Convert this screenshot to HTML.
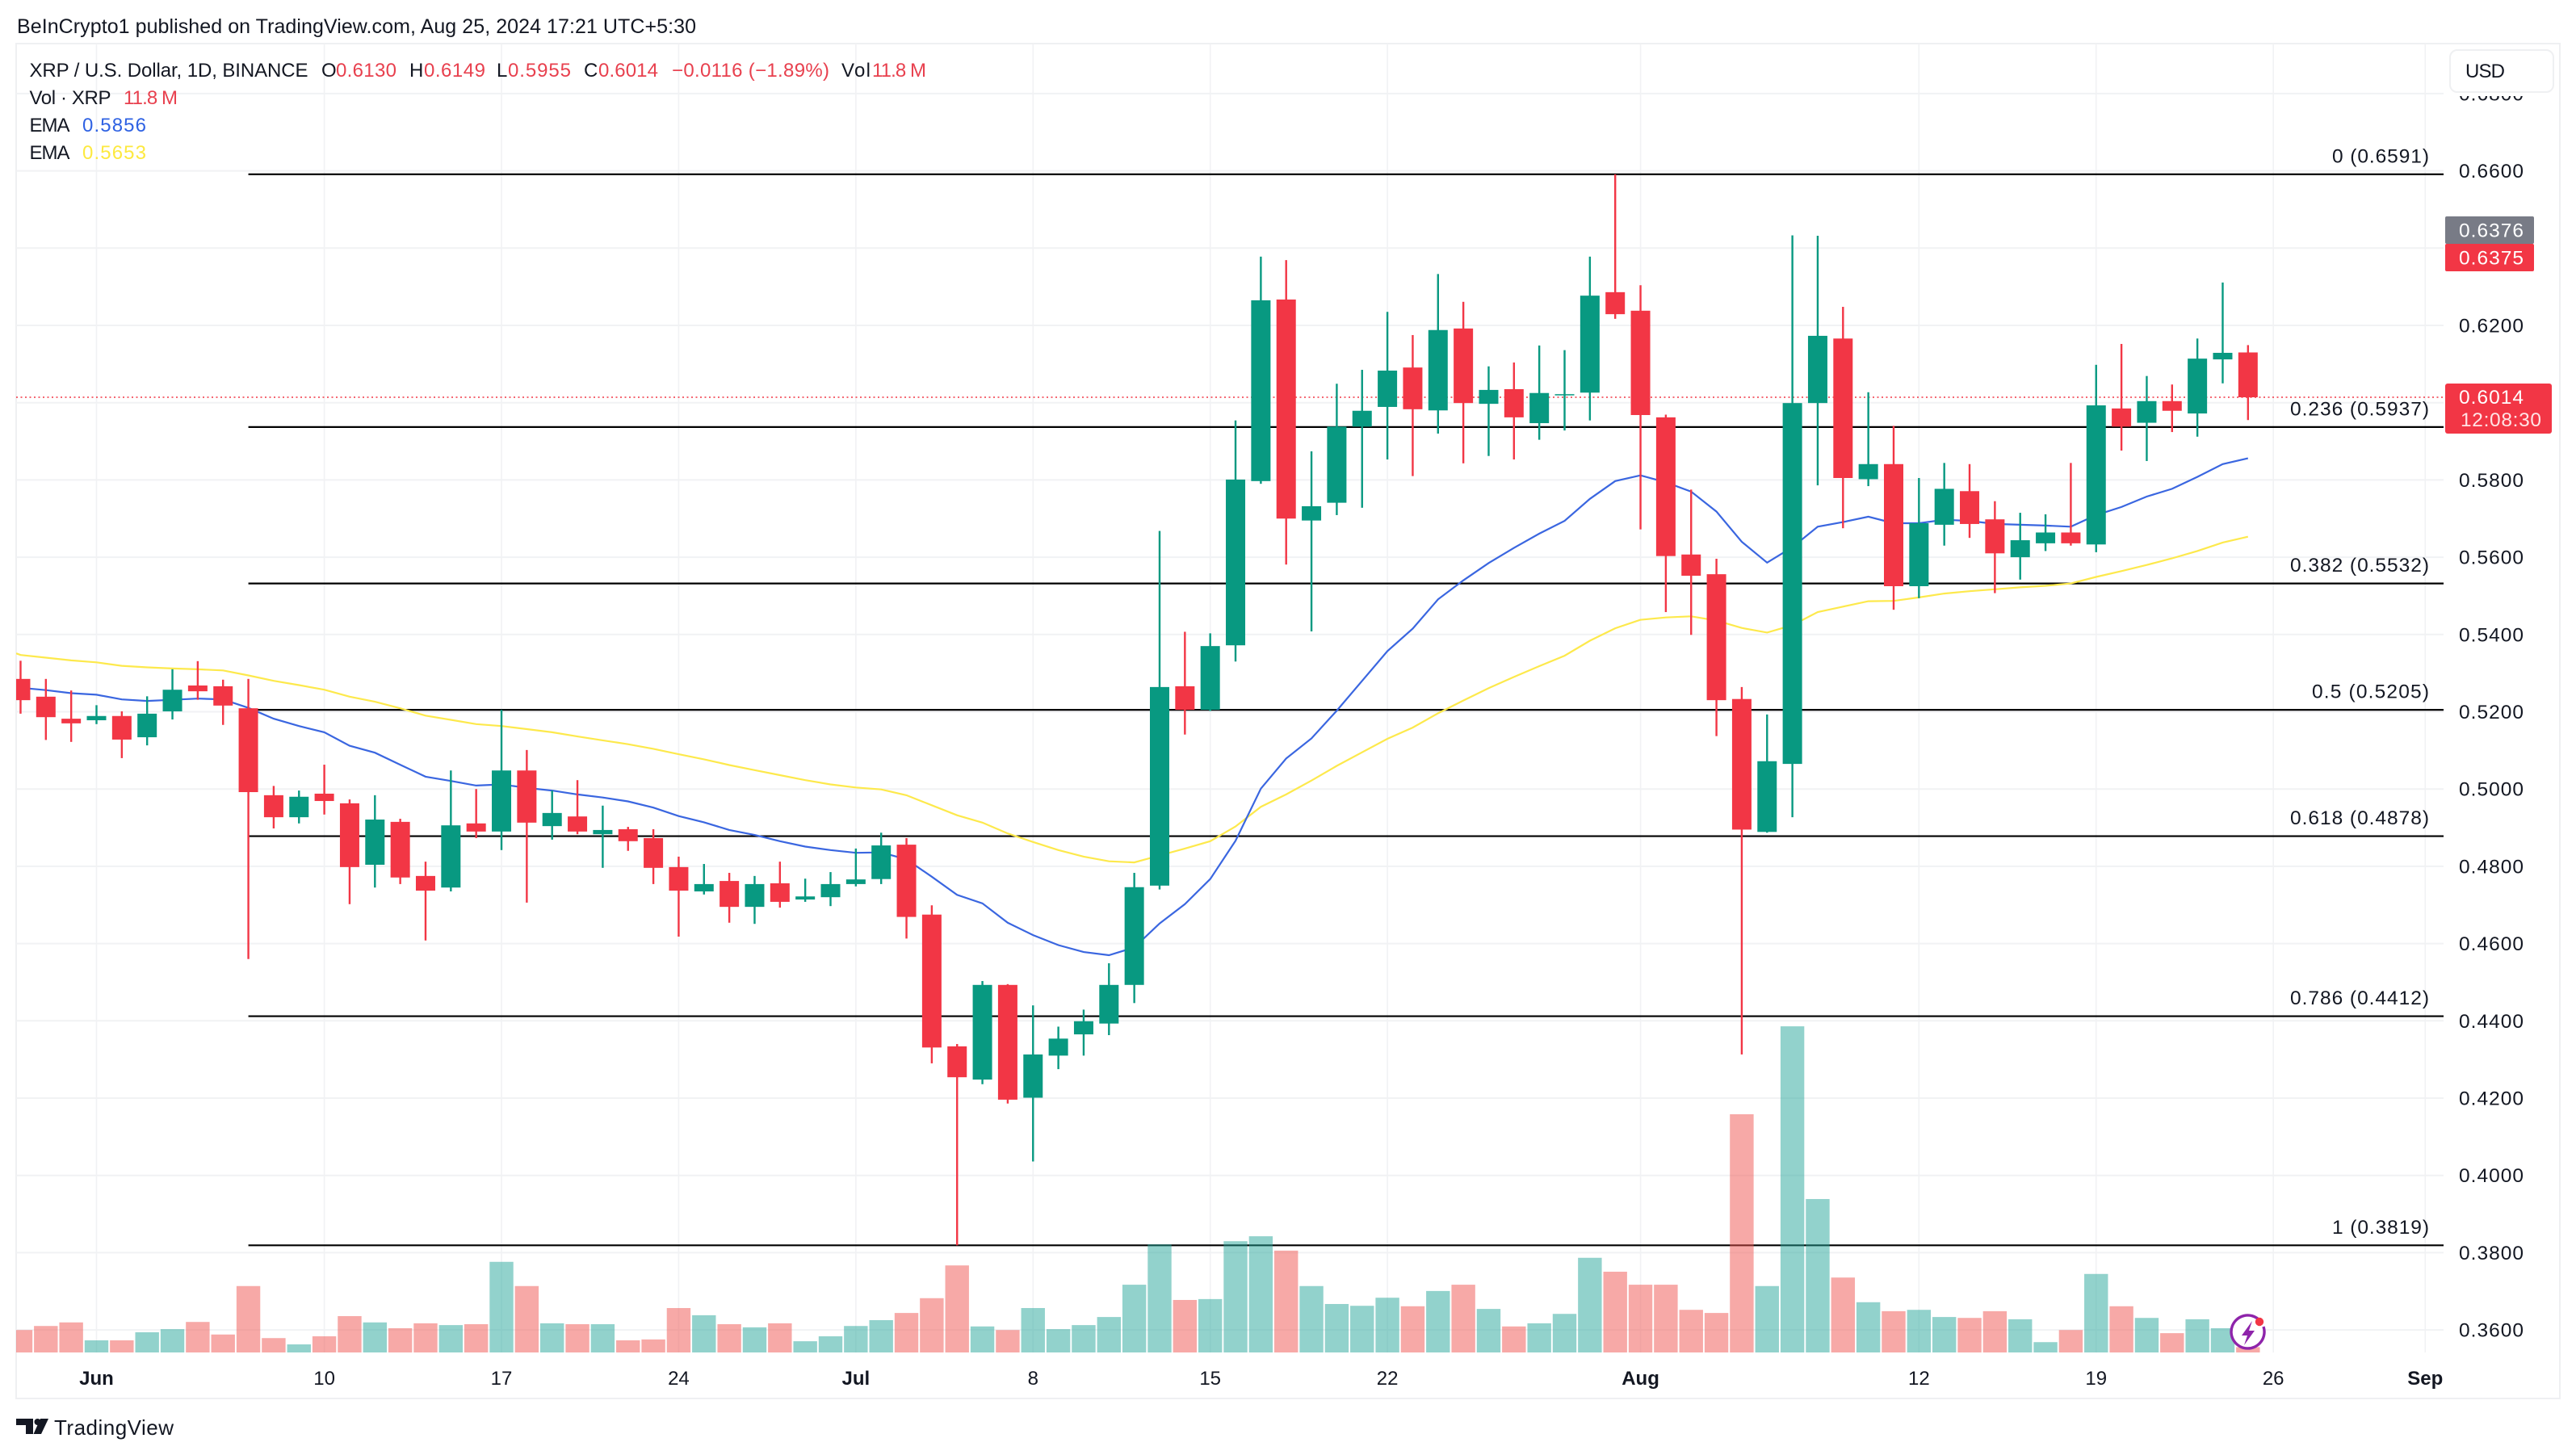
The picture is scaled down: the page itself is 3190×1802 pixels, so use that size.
<!DOCTYPE html>
<html lang="en">
<head>
<meta charset="utf-8">
<title>XRP / U.S. Dollar chart</title>
<style>
html,body{margin:0;padding:0;background:#fff;}
svg{display:block;}
text{font-family:"Liberation Sans",Arial,sans-serif;font-size:24px;fill:#131722;}
.red{fill:#e8404e;}
.fib{fill:#131722;font-size:24.5px;}
.tag{fill:#fff;font-size:24.5px;}
</style>
</head>
<body>
<svg id="chart" xmlns="http://www.w3.org/2000/svg" width="3190" height="1802" viewBox="0 0 3190 1802">
  <defs><clipPath id="pane-clip"><rect x="20" y="54" width="3006" height="1678"/></clipPath></defs>
  <rect x="0" y="0" width="3190" height="1802" fill="#ffffff"/>
  <text x="21" y="41" textLength="841" style="font-size:25px">BeInCrypto1 published on TradingView.com, Aug 25, 2024 17:21 UTC+5:30</text>
  <rect x="20" y="54" width="3150" height="1678" fill="none" stroke="#eff0f2" stroke-width="2"/>

  <g id="grid"></g>
  <g id="fibs" clip-path="url(#pane-clip)"></g>
  <line id="last-line" x1="20" x2="3026" stroke="#f23645" stroke-width="1.6" stroke-dasharray="2 3.5"/>
  <g id="volumes" clip-path="url(#pane-clip)"></g>
  <polyline id="ema-slow" fill="none" stroke="#fde94c" stroke-width="2.2" clip-path="url(#pane-clip)"/>
  <polyline id="ema-fast" fill="none" stroke="#3a66e0" stroke-width="2.2" clip-path="url(#pane-clip)"/>
  <g id="candles" clip-path="url(#pane-clip)"></g>

  <g id="price-axis"></g>
  <g id="time-axis"></g>

  <rect x="3028" y="55" width="141" height="64" fill="#ffffff"/>
  <rect x="3034" y="62" width="128" height="52" rx="9" fill="#ffffff" stroke="#eff0f2" stroke-width="2"/>
  <text x="3053" y="96" textLength="49" style="font-size:24px">USD</text>

  <rect x="3028" y="268" width="110" height="34" rx="2" fill="#787b86"/>
  <text class="tag" x="3045" y="293.5" textLength="80">0.6376</text>
  <rect x="3028" y="302" width="110" height="34" rx="2" fill="#f23645"/>
  <text class="tag" x="3045" y="327.5" textLength="80">0.6375</text>
  <rect x="3028" y="475" width="132" height="62" rx="3" fill="#f23645"/>
  <text class="tag" x="3045" y="500" textLength="80">0.6014</text>
  <text class="tag" x="3047" y="528" textLength="100" style="fill:#ffe3e5">12:08:30</text>

  <g>
    <text x="36.5" y="95" textLength="345">XRP / U.S. Dollar, 1D, BINANCE</text>
    <text x="398" y="95">O</text>
    <text class="red" x="416" y="95" textLength="75">0.6130</text>
    <text x="507" y="95">H</text>
    <text class="red" x="525" y="95" textLength="76">0.6149</text>
    <text x="615" y="95">L</text>
    <text class="red" x="629" y="95" textLength="78">0.5955</text>
    <text x="723" y="95">C</text>
    <text class="red" x="741" y="95" textLength="74">0.6014</text>
    <text class="red" x="832" y="95" textLength="195">−0.0116 (−1.89%)</text>
    <text x="1042" y="95" textLength="36">Vol</text>
    <text class="red" x="1080" y="95" textLength="67">11.8 M</text>
    <text x="36.5" y="129" textLength="101">Vol · XRP</text>
    <text class="red" x="153" y="129" textLength="67">11.8 M</text>
    <text x="36.5" y="163" textLength="50">EMA</text>
    <text x="102" y="163" textLength="79" style="fill:#2f62e3">0.5856</text>
    <text x="36.5" y="197" textLength="50">EMA</text>
    <text x="102" y="197" textLength="79" style="fill:#fde93f">0.5653</text>
  </g>

  <g>
    <circle cx="2784" cy="1650.5" r="20" fill="#ffffff"/>
    <path d="M2797 1634 A20.5 20.5 0 1 0 2803 1643" fill="none" stroke="#8e24aa" stroke-width="3.4"/>
    <polygon points="2789,1636 2776,1654 2783,1654 2779,1666 2792,1648 2785,1648" fill="#8e24aa"/>
    <circle cx="2798" cy="1637" r="5.2" fill="#f23645"/>
  </g>

  <g>
    <polygon points="20,1757 41,1757 41,1776 32,1776 32,1765 20,1765" fill="#131722"/>
    <circle cx="46.5" cy="1761" r="4" fill="#131722"/>
    <polygon points="50,1757 60,1757 51,1776 41.5,1776" fill="#131722"/>
    <text x="67" y="1777" textLength="148" style="font-size:26px">TradingView</text>
  </g>
</svg>

<script>
// Chart data: one entry per daily candle, starting May 29 (day offset -3 from Jun 1).
const firstDay = -3;
const opens = [.5285,.5239,.5182,.5178,.5189,.5134,.5201,.5268,.5266,.5209,.4984,.4927,.4988,.4963,.4804,.4915,.4775,.4745,.4911,.4890,.5048,.4904,.4929,.4883,.4896,.4873,.4798,.4735,.4762,.4695,.4756,.4714,.4720,.4754,.4767,.4856,.4675,.4334,.4248,.4493,.4201,.4310,.4365,.4393,.4493,.4750,.5266,.5205,.5372,.5797,.6267,.5695,.5741,.5938,.5989,.6091,.5980,.6192,.5997,.6035,.5947,.6019,.6026,.6286,.6238,.5962,.5607,.5556,.5233,.4889,.5065,.5999,.6166,.5802,.5841,.5525,.5684,.5771,.5698,.5600,.5636,.5664,.5633,.5985,.5948,.6004,.5972,.6112,.6130];
const highs = [.5332,.5285,.5255,.5217,.5201,.5240,.5310,.5331,.5283,.5285,.5008,.4996,.5063,.4973,.4984,.4923,.4812,.5048,.5000,.5205,.5101,.4996,.5023,.4957,.4902,.4896,.4825,.4806,.4783,.4775,.4812,.4768,.4785,.4846,.4887,.4873,.4699,.4340,.4503,.4495,.4440,.4385,.4429,.4549,.4783,.5668,.5407,.5403,.5954,.6378,.6369,.5874,.6049,.6085,.6235,.6175,.6333,.6261,.6094,.6104,.6148,.6136,.6378,.6591,.6304,.5969,.5775,.5596,.5264,.5193,.6433,.6432,.6248,.6027,.5940,.5805,.5844,.5841,.5745,.5715,.5711,.5844,.6098,.6152,.6069,.6047,.6166,.6311,.6149];
const lows = [.5195,.5127,.5122,.5168,.5080,.5113,.5180,.5231,.5166,.4560,.4898,.4911,.4934,.4702,.4745,.4754,.4608,.4735,.4873,.4842,.4706,.4869,.4883,.4796,.4840,.4754,.4618,.4727,.4654,.4651,.4693,.4708,.4697,.4748,.4754,.4613,.4290,.3819,.4236,.4186,.4036,.4275,.4310,.4363,.4446,.4740,.5141,.5202,.5330,.5790,.5581,.5408,.5709,.5728,.5853,.5810,.5920,.5843,.5862,.5853,.5904,.5928,.5954,.6217,.5672,.5458,.5399,.5137,.4313,.4887,.4927,.5786,.5675,.5784,.5464,.5494,.5630,.5650,.5507,.5542,.5616,.5630,.5613,.5876,.5849,.5924,.5912,.6050,.5955];
const closes = [.5230,.5186,.5170,.5189,.5128,.5195,.5257,.5253,.5216,.4992,.4927,.4980,.4969,.4798,.4921,.4771,.4737,.4906,.4890,.5048,.4913,.4938,.4890,.4894,.4865,.4796,.4737,.4754,.4695,.4754,.4708,.4722,.4754,.4766,.4854,.4669,.4331,.4254,.4493,.4196,.4313,.4354,.4399,.4493,.4746,.5264,.5205,.5370,.5801,.6265,.5700,.5732,.5938,.5979,.6083,.5983,.6188,.5999,.6033,.5962,.6025,.6022,.6277,.6229,.5968,.5603,.5552,.5230,.4895,.5072,.5999,.6173,.5805,.5841,.5525,.5688,.5777,.5686,.5610,.5644,.5664,.5636,.5993,.5938,.6004,.5979,.6114,.6129,.6014];
const volumes = [50,59,67,27,27,45,52,68,40,148,32,18,36,81,67,54,65,61,63,202,148,65,63,63,27,29,99,83,63,56,65,25,36,59,72,88,121,194,58,50,99,52,61,79,151,241,117,119,248,259,227,148,108,104,122,103,137,151,97,58,65,86,211,180,151,151,95,88,531,148,727,342,167,112,92,95,79,77,92,74,23,50,175,103,77,43,74,54,11.8];
const emaFast = [.5262,.5256,.5248,.5244,.5232,.5228,.5231,.5234,.5232,.5210,.5182,.5163,.5147,.5112,.5094,.5063,.5032,.5021,.5009,.5012,.5003,.4996,.4986,.4978,.4968,.4952,.4930,.4914,.4894,.4881,.4865,.4851,.4842,.4835,.4836,.4818,.4773,.4726,.4704,.4654,.4622,.4596,.4578,.4570,.4590,.4652,.4702,.4767,.4866,.5001,.5079,.5131,.5203,.5280,.5357,.5415,.5491,.5540,.5585,.5624,.5661,.5694,.5751,.5797,.5812,.5794,.5770,.5718,.5640,.5586,.5626,.5679,.5691,.5705,.5688,.5688,.5697,.5694,.5686,.5684,.5682,.5679,.5709,.5730,.5757,.5777,.5808,.5841,.5856];
const emaSlow = [.5347,.5340,.5333,.5328,.5319,.5315,.5312,.5310,.5307,.5294,.5280,.5269,.5257,.5239,.5226,.5209,.5190,.5179,.5168,.5163,.5155,.5147,.5136,.5126,.5116,.5104,.5090,.5077,.5062,.5049,.5036,.5023,.5012,.5004,.4999,.4984,.4958,.4932,.4913,.4885,.4863,.4842,.4825,.4813,.4810,.4828,.4846,.4865,.4903,.4954,.4986,.5022,.5060,.5095,.5130,.5159,.5196,.5229,.5261,.5290,.5318,.5345,.5384,.5416,.5438,.5444,.5447,.5436,.5417,.5405,.5424,.5458,.5472,.5486,.5487,.5496,.5506,.5512,.5517,.5522,.5526,.5532,.5549,.5564,.5580,.5597,.5616,.5638,.5653];
const priceTicks = [0.68,0.66,0.64,0.62,0.60,0.58,0.56,0.54,0.52,0.50,0.48,0.46,0.44,0.42,0.40,0.38,0.36];
const timeTickDays = [0,9,16,23,30,37,44,51,61,72,79,86,92];
const timeTickLabels = ["Jun","10","17","24","Jul","8","15","22","Aug","12","19","26","Sep"];
const timeTickBold = [true,false,false,false,true,false,false,false,true,false,false,false,true];
const fibLevels = [0,0.236,0.382,0.5,0.618,0.786,1];
const fibPrices = [0.6591,0.5937,0.5532,0.5205,0.4878,0.4412,0.3819];
const fibLabelWidths = [120,172,172,145,172,172,120];
const lastPrice = 0.6014;

// Axis functions
function xDay(d){ return 119.5 + 31.345 * d; }
function xBar(i){ return xDay(firstDay + i); }
function yPrice(p){ return 403 + (0.62 - p) * 4785; }
function yVol(v){ return 1675 - v * 0.5556; }

const NS = 'http://www.w3.org/2000/svg';
function mk(tag, parent, props){
  const el = document.createElementNS(NS, tag);
  for (const k in props) el.setAttribute(k, props[k]);
  parent.appendChild(el);
  return el;
}

const grid = document.getElementById('grid');
priceTicks.forEach(function(p){
  const l = mk('line', grid, {x1:20, x2:3026, y1:yPrice(p), y2:yPrice(p), stroke:'#f1f2f4', 'stroke-width':2});
  
  
});
timeTickDays.forEach(function(d){
  const l = mk('line', grid, {x1:xDay(d), x2:xDay(d), y1:54, y2:1675, stroke:'#f1f2f4', 'stroke-width':1.6});
  
  
});

const fibs = document.getElementById('fibs');
const fibLabelLayer = document.getElementById('chart');
fibPrices.forEach(function(p, i){
  const y = yPrice(p);
  const l = mk('line', fibs, {x1:xDay(6), x2:3026, y1:y, y2:y, stroke:'#000000', 'stroke-width':2.2});
  
  
  const t = mk('text', fibs, {x:3008 - fibLabelWidths[i], y:y - 14.5, textLength:fibLabelWidths[i], 'class':'fib'});
  
  
  t.textContent = fibLevels[i] + ' (' + p.toFixed(4) + ')';
});

const ll = document.getElementById('last-line');
ll.setAttribute('y1', yPrice(lastPrice));
ll.setAttribute('y2', yPrice(lastPrice));

const volG = document.getElementById('volumes');
volumes.forEach(function(v, i){
  const up = closes[i] >= opens[i];
  const r = mk('rect', volG, {x:xBar(i) - 14.7, y:yVol(v), width:29.4, height:1675 - yVol(v), fill: up ? '#26a69a' : '#ef5350', 'fill-opacity':0.5});
  
  
});

document.getElementById('ema-fast').setAttribute('points', emaFast.map(function(p, i){ return xBar(i).toFixed(1) + ',' + yPrice(p).toFixed(1); }).join(' '));
document.getElementById('ema-slow').setAttribute('points', [[20, yPrice(emaSlow[0]) - 2]].map(function(a){ return a[0] + ',' + a[1].toFixed(1); }).concat(emaSlow.map(function(p, i){ return xBar(i).toFixed(1) + ',' + yPrice(p).toFixed(1); })).join(' '));

const candleG = document.getElementById('candles');
opens.forEach(function(o, i){
  const c = closes[i];
  const color = c >= o ? '#089981' : '#f23645';
  const x = xBar(i);
  const wick = mk('rect', candleG, {x:x - 1.2, y:yPrice(highs[i]), width:2.4, height:yPrice(lows[i]) - yPrice(highs[i]), fill:color});
  
  
  const top = yPrice(Math.max(o, c));
  const body = mk('rect', candleG, {x:x - 12, y:top, width:24, height:Math.max(1.5, yPrice(Math.min(o, c)) - top), fill:color});
  
  
});

const priceAxis = document.getElementById('price-axis');
priceTicks.forEach(function(p){
  const t = mk('text', priceAxis, {x:3045, y:yPrice(p) + 8.5, textLength:80, style:'font-size:24.5px'});
  
  
  t.textContent = p.toFixed(4);
});

const timeAxis = document.getElementById('time-axis');
timeTickDays.forEach(function(d, i){
  const t = mk('text', timeAxis, {x:xDay(d), y:1715, 'text-anchor':'middle', style: timeTickBold[i] ? 'font-weight:bold' : ''});
  
  
  t.textContent = timeTickLabels[i];
});
</script>
</body>
</html>
